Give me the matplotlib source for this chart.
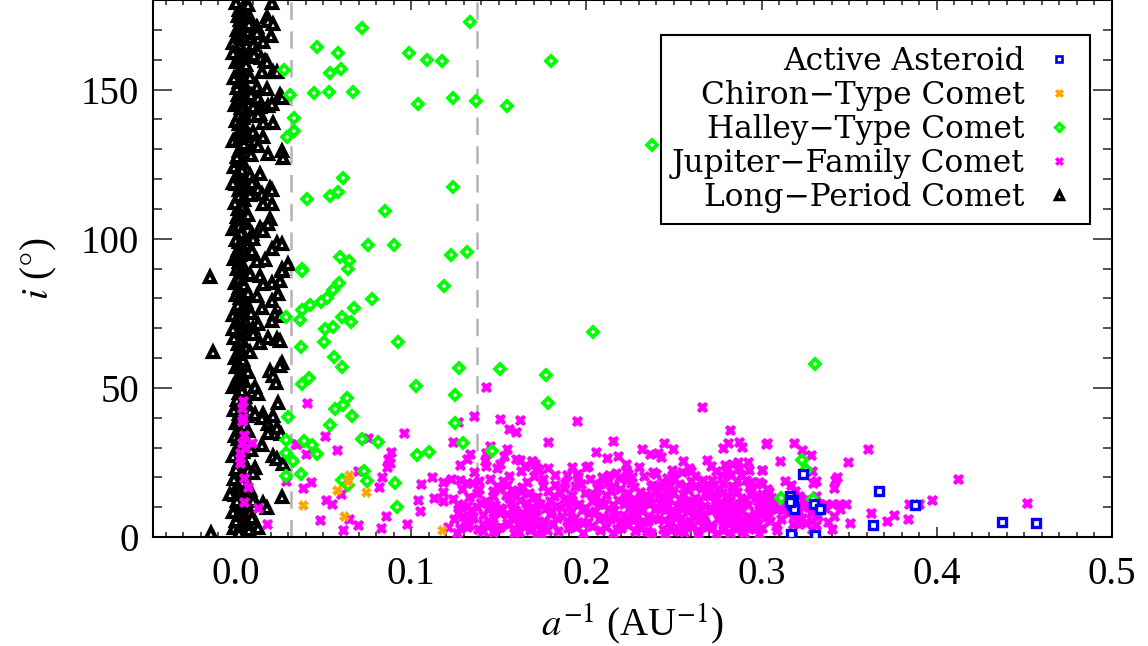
import matplotlib
matplotlib.use("Agg")
import matplotlib.pyplot as plt
from matplotlib.ticker import MultipleLocator, FormatStrFormatter
from matplotlib.lines import Line2D

# ---------------- data ----------------
# Active asteroids
aa_x = [0.3238, 0.367, 0.3164, 0.3176, 0.330, 0.3335, 0.3877, 0.3637, 0.4373, 0.4567,
        0.317, 0.3307, 0.318, 0.3185, 0.3165]
aa_y = [21.1, 15.4, 13.8, 10.7, 11.0, 9.4, 10.7, 4.0, 5.0, 4.7,
        1.0, 0.7, 12.5, 9.5, 11.8]

# Chiron-type comets
ctc_x = [0.0644, 0.0638, 0.0576, 0.0741, 0.0382, 0.0616, 0.1174]
ctc_y = [20.8, 18.8, 15.8, 15.1, 10.7, 7.0, 2.3]

# Halley-type comets
htc_x = [0.1334, 0.0718, 0.0462, 0.058, 0.0986, 0.109, 0.1174, 0.0274, 0.0536, 0.060,
         0.0308, 0.0445, 0.053, 0.0667, 0.1038, 0.1237, 0.1368, 0.1545, 0.033, 0.033,
         0.029, 0.061, 0.1237, 0.0405, 0.0536, 0.058, 0.085, 0.0753, 0.090, 0.0593,
         0.0644, 0.1226, 0.1317, 0.0376, 0.0638, 0.0376, 0.119, 0.0587, 0.0553, 0.0519,
         0.0485, 0.0775, 0.0422, 0.0376, 0.0673, 0.0285, 0.0365, 0.0604, 0.0656, 0.0507,
         0.0553, 0.037, 0.0502, 0.0924, 0.0559, 0.0604, 0.1271, 0.151, 0.0376, 0.0416,
         0.1026, 0.1249, 0.0633, 0.061, 0.0564, 0.0661, 0.0296, 0.0536, 0.1249, 0.0285,
         0.0388, 0.0433, 0.0718, 0.081, 0.1294, 0.0285, 0.0462, 0.0325, 0.1032, 0.110,
         0.146, 0.0285, 0.037, 0.073, 0.0604, 0.0638, 0.0747, 0.0906, 0.0918, 0.1796,
         0.2377, 0.204, 0.177, 0.178, 0.3307, 0.323, 0.3255, 0.311, 0.3295]
htc_y = [172.5, 170.5, 164.4, 162.1, 162.4, 160.0, 159.7, 156.7, 155.4, 157.0,
         148.3, 148.7, 149.3, 149.3, 145.3, 147.0, 146.3, 144.6, 140.6, 136.2,
         134.2, 120.5, 117.4, 113.4, 114.4, 115.8, 109.4, 98.0, 98.0, 94.0,
         92.6, 94.6, 95.6, 90.0, 90.0, 89.3, 84.2, 85.2, 82.9, 80.2,
         78.9, 79.9, 77.9, 76.2, 76.8, 73.8, 72.8, 73.8, 72.1, 69.8,
         70.5, 63.8, 65.4, 65.4, 60.4, 57.0, 56.7, 56.4, 51.3, 53.4,
         50.7, 47.7, 46.6, 44.3, 43.0, 40.6, 40.3, 37.6, 38.3, 32.6,
         32.2, 30.9, 32.9, 31.9, 31.5, 28.2, 27.9, 25.5, 27.5, 28.5,
         28.9, 20.5, 21.1, 22.1, 19.1, 17.4, 18.8, 18.1, 10.1, 159.7,
         131.5, 68.8, 54.4, 45.0, 58.0, 25.8, 22.5, 13.0, 12.6]

# Jupiter-family comets: near the LPC column
jfc_col_x = [0.004, 0.0034, 0.0034, 0.004, 0.0046, 0.0034, 0.009, 0.005, 0.0023, 0.0023,
             0.0023, 0.0348, 0.0046, 0.0068, 0.0285, 0.0046, 0.0125, 0.018]
jfc_col_y = [45.6, 43.3, 38.9, 40.0, 34.2, 31.5, 31.5, 29.9, 28.2, 26.5,
             24.8, 31.2, 19.8, 16.8, 18.8, 11.7, 9.7, 4.4]

# Jupiter-family comets: scattered / upper envelope
jfc_sc_x = [0.1425, 0.0405, 0.1357, 0.151, 0.162, 0.1266, 0.0958, 0.0507, 0.156, 0.160,
            0.0753, 0.0342, 0.1237, 0.1448, 0.0576, 0.0399, 0.0884, 0.155, 0.1334, 0.1425,
            0.0867, 0.0878, 0.086, 0.1596, 0.1648, 0.169, 0.1425, 0.149, 0.151, 0.0696,
            0.0832, 0.1117, 0.0428, 0.1055, 0.118, 0.1277, 0.1317, 0.135, 0.139, 0.0815,
            0.0382, 0.060, 0.129, 0.118, 0.147, 0.151, 0.158, 0.163, 0.0513, 0.1038,
            0.1129, 0.118, 0.0547, 0.1266, 0.1317, 0.1374, 0.1049, 0.1437, 0.1505, 0.158,
            0.166, 0.0855, 0.0644, 0.0479, 0.1243, 0.1294, 0.1346, 0.0696, 0.0827, 0.0975,
            0.061, 0.1277, 0.1317, 0.1408, 0.1488, 0.156, 0.162, 0.169, 0.1408, 0.1465,
            0.1545, 0.1716, 0.1716,
            0.266, 0.1944, 0.178, 0.2155, 0.2446, 0.2822, 0.281, 0.287, 0.289, 0.278,
            0.3027, 0.2058, 0.232, 0.2497, 0.2366, 0.241, 0.2429, 0.212, 0.2178, 0.162,
            0.1688, 0.1705, 0.1648, 0.178, 0.1916, 0.2007, 0.2229, 0.2229, 0.2554, 0.2588,
            0.269, 0.2714, 0.2794, 0.2834, 0.2868, 0.2873, 0.2925, 0.293, 0.3005, 0.1887,
            0.1944, 0.2087, 0.2132, 0.2189, 0.2263, 0.2491, 0.2497, 0.2548, 0.260, 0.2742,
            0.2776, 0.280, 0.2828, 0.288, 0.2913, 0.2987, 0.2668,
            0.3033, 0.3187, 0.3232, 0.3284, 0.3609, 0.3107, 0.3495, 0.3005, 0.329, 0.3136,
            0.317, 0.3295, 0.3312, 0.342, 0.3432, 0.3415, 0.4122, 0.3005, 0.3044, 0.3005,
            0.3005, 0.3005, 0.3005, 0.3073, 0.3073, 0.3141, 0.3176, 0.3216, 0.3256, 0.329,
            0.333, 0.337, 0.3403, 0.3443, 0.3483, 0.3216, 0.3312, 0.3843, 0.390, 0.3974,
            0.4515, 0.3626, 0.3415, 0.3757, 0.3837, 0.3717, 0.3506, 0.3216, 0.3256, 0.329,
            0.3312, 0.309, 0.3404, 0.2987, 0.329]
jfc_sc_y = [50.3, 45.0, 40.6, 39.6, 39.3, 38.6, 34.9, 33.9, 36.2, 35.2,
            33.2, 31.2, 31.9, 30.5, 29.2, 27.9, 28.5, 29.5, 27.9, 28.2,
            26.2, 24.8, 23.5, 26.2, 23.8, 25.5, 23.8, 23.2, 24.5, 22.1,
            20.1, 20.1, 18.5, 17.8, 18.5, 19.1, 18.1, 18.1, 18.8, 16.8,
            16.4, 14.4, 16.1, 15.1, 15.4, 16.1, 14.8, 15.4, 12.4, 12.4,
            13.1, 12.1, 11.1, 11.1, 10.4, 10.1, 8.7, 9.4, 9.7, 8.7,
            9.4, 7.0, 6.0, 5.7, 6.0, 7.0, 6.4, 4.0, 3.0, 4.4,
            2.3, 3.0, 3.4, 4.4, 3.0, 4.4, 5.4, 4.4, 2.0, 6.4,
            7.7, 1.0, 23.2,
            43.6, 38.9, 31.9, 32.2, 31.5, 35.9, 31.5, 31.9, 30.2, 29.9,
            31.2, 28.5, 29.5, 29.5, 27.9, 28.2, 26.8, 26.5, 27.2, 25.8,
            25.5, 24.5, 23.8, 23.2, 23.5, 23.8, 24.5, 22.1, 25.5, 23.2,
            25.8, 23.8, 24.2, 24.5, 25.2, 23.2, 25.2, 22.5, 22.5, 20.8,
            21.1, 20.1, 20.8, 19.8, 20.1, 22.5, 20.8, 21.8, 22.1, 22.1,
            20.8, 21.5, 20.8, 20.8, 19.1, 18.5, 19.1,
            31.5, 31.5, 29.2, 27.5, 29.5, 25.5, 25.2, 22.5, 22.1, 18.8,
            17.4, 18.1, 18.8, 19.1, 20.1, 16.4, 19.5, 17.8, 15.1, 14.4,
            11.1, 7.7, 3.0, 11.1, 9.7, 11.1, 11.1, 11.1, 11.1, 11.1,
            11.1, 11.1, 11.1, 11.1, 11.1, 13.8, 13.8, 11.1, 11.1, 12.4,
            11.4, 8.0, 7.0, 7.4, 6.0, 5.4, 4.7, 4.4, 4.7, 5.4,
            4.0, 2.3, 2.7, 1.0, 2.7]

# Jupiter-family comets: dense main cloud
jfc_core_x = [0.121, 0.124, 0.127, 0.123, 0.128, 0.126,
              0.131, 0.133, 0.136, 0.138, 0.134, 0.139, 0.132,
              0.141, 0.143, 0.145, 0.147, 0.142, 0.148, 0.146, 0.149,
              0.151, 0.152, 0.154, 0.156, 0.158, 0.153, 0.157, 0.159, 0.155,
              0.161, 0.162, 0.164, 0.166, 0.168, 0.163, 0.167, 0.169, 0.165, 0.170,
              0.171, 0.172, 0.174, 0.175, 0.177, 0.178, 0.173, 0.176, 0.179, 0.174,
              0.181, 0.183, 0.185, 0.186, 0.188, 0.182, 0.184, 0.187, 0.189, 0.180,
              0.191, 0.192, 0.194, 0.196, 0.197, 0.193, 0.198, 0.195, 0.199,
              0.201, 0.203, 0.205, 0.206, 0.208, 0.202, 0.204, 0.207, 0.209, 0.200,
              0.211, 0.213, 0.214, 0.216, 0.218, 0.212, 0.215, 0.217, 0.219, 0.210, 0.216,
              0.221, 0.222, 0.224, 0.225, 0.227, 0.228, 0.223, 0.226, 0.229, 0.224, 0.220, 0.228,
              0.231, 0.232, 0.234, 0.235, 0.236, 0.238, 0.233, 0.237, 0.239, 0.230, 0.236, 0.239,
              0.241, 0.242, 0.244, 0.245, 0.246, 0.248, 0.243, 0.247, 0.249, 0.240, 0.245, 0.248, 0.243,
              0.251, 0.252, 0.254, 0.255, 0.256, 0.258, 0.253, 0.257, 0.259, 0.250, 0.254, 0.258, 0.252,
              0.261, 0.262, 0.264, 0.265, 0.266, 0.268, 0.263, 0.267, 0.269, 0.260, 0.264, 0.268, 0.262,
              0.271, 0.272, 0.274, 0.275, 0.276, 0.278, 0.273, 0.277, 0.279, 0.270, 0.274, 0.278, 0.272, 0.276,
              0.281, 0.282, 0.284, 0.285, 0.286, 0.288, 0.283, 0.287, 0.289, 0.280, 0.284, 0.288, 0.282, 0.286,
              0.291, 0.292, 0.294, 0.295, 0.296, 0.298, 0.293, 0.297, 0.299, 0.290, 0.294, 0.298,
              0.302, 0.305, 0.306, 0.309, 0.303,
              0.311, 0.313, 0.315, 0.318, 0.319,
              0.321, 0.323, 0.326, 0.328,
              0.332, 0.336, 0.338, 0.345]
jfc_core_y = [3.5, 12.8, 8.2, 19.5, 24.0, 1.5,
              5.2, 13.5, 21.8, 2.8, 9.0, 16.2, 26.0,
              7.5, 12.0, 19.5, 1.8, 25.5, 10.8, 5.0, 17.0,
              3.2, 9.5, 14.2, 20.5, 6.5, 27.0, 11.8, 1.2, 17.5,
              4.5, 12.5, 8.0, 18.5, 2.5, 22.0, 14.8, 10.0, 5.8, 20.5,
              7.0, 13.5, 3.0, 17.0, 9.8, 15.5, 22.5, 5.5, 12.0, 1.0,
              4.2, 10.5, 15.0, 7.2, 18.2, 20.8, 2.0, 12.8, 5.5, 9.0,
              8.5, 14.0, 3.5, 11.2, 17.8, 6.2, 1.5, 20.0, 9.8,
              5.0, 12.0, 8.8, 16.5, 2.5, 19.5, 14.5, 6.0, 11.0, 23.5,
              3.2, 9.5, 15.5, 6.8, 12.5, 18.0, 1.2, 21.5, 4.8, 11.0, 17.0,
              7.5, 13.0, 4.0, 10.0, 16.8, 2.0, 19.0, 8.5, 12.0, 14.8, 5.5, 6.2,
              3.0, 8.8, 14.0, 5.5, 11.2, 17.5, 20.5, 1.5, 9.5, 12.8, 7.0, 15.5,
              6.0, 11.5, 2.8, 9.0, 15.2, 4.5, 18.5, 12.8, 7.8, 21.0, 1.0, 17.0, 13.8,
              3.5, 10.5, 6.5, 14.5, 1.8, 8.8, 17.8, 12.0, 5.2, 19.5, 11.2, 15.8, 7.8,
              6.8, 13.2, 2.5, 9.8, 16.5, 4.8, 11.0, 7.5, 14.0, 18.8, 1.0, 10.5, 20.5,
              4.0, 9.2, 12.8, 6.2, 15.8, 2.2, 17.5, 8.0, 11.5, 13.8, 1.0, 5.5, 19.2, 10.5,
              7.0, 12.0, 3.5, 9.5, 15.0, 5.8, 17.2, 11.0, 2.0, 14.0, 8.2, 13.0, 1.2, 6.5,
              5.0, 10.8, 14.2, 3.0, 8.0, 12.2, 16.8, 6.2, 10.0, 1.5, 18.5, 4.2,
              8.8, 5.5, 13.0, 9.5, 16.0,
              6.0, 12.5, 8.2, 4.5, 15.5,
              9.0, 6.5, 12.8, 8.0,
              7.2, 9.8, 5.0, 9.5]

# Jupiter-family comets: more of the dense cloud
jfc_more_x = [0.1285, 0.1355, 0.1375, 0.1445, 0.1465, 0.1505, 0.1525, 0.1545, 0.1575, 0.1595,
              0.1615, 0.1635, 0.1655, 0.1675, 0.1695, 0.1715, 0.1735, 0.1755, 0.1775, 0.1795,
              0.1815, 0.1835, 0.1855, 0.1875, 0.1895, 0.1915, 0.1935, 0.1955, 0.1975, 0.1995,
              0.2015, 0.2035, 0.2055, 0.2075, 0.2095, 0.2115, 0.2135, 0.2155, 0.2175, 0.2195,
              0.2215, 0.2235, 0.2255, 0.2275, 0.2295, 0.2305, 0.2325, 0.2345, 0.2365, 0.2385,
              0.2405, 0.2425, 0.2445, 0.2465, 0.2485, 0.2495, 0.2515, 0.2535, 0.2555, 0.2575,
              0.2595, 0.2605, 0.2625, 0.2645, 0.2665, 0.2685, 0.2705, 0.2715, 0.2735, 0.2755,
              0.2775, 0.2795, 0.2805, 0.2825, 0.2845, 0.2865, 0.2885, 0.2905, 0.2925, 0.2945,
              0.2965, 0.2985, 0.3015, 0.3035, 0.3065, 0.3085, 0.3125, 0.3155, 0.3185, 0.3235,
              0.2250, 0.2290, 0.2330, 0.2370, 0.2410, 0.2450, 0.2490, 0.2530, 0.2570, 0.2610,
              0.2650, 0.2690, 0.2730, 0.2770, 0.2810, 0.2850, 0.2890, 0.2930, 0.2970, 0.2990,
              0.2160, 0.2200, 0.2080, 0.1980, 0.1900, 0.1820, 0.1720, 0.1640, 0.1560, 0.1480,
              0.1400, 0.1330, 0.2620, 0.2700, 0.2780, 0.2860, 0.2460, 0.2380, 0.2300, 0.2240]
jfc_more_y = [10.2, 6.8, 14.8, 3.9, 13.6, 7.9, 18.8, 4.8, 15.9, 9.0,
              1.8, 16.9, 11.4, 6.9, 13.1, 4.1, 10.9, 19.3, 2.4, 7.7,
              13.9, 6.3, 10.1, 16.4, 3.1, 12.1, 17.1, 5.1, 9.1, 14.6,
              8.1, 3.6, 13.4, 17.9, 6.6, 14.1, 5.9, 10.6, 2.6, 16.1,
              11.1, 6.1, 18.1, 9.4, 3.9, 15.1, 10.9, 2.1, 13.3, 6.4,
              9.7, 16.3, 5.6, 10.6, 2.3, 14.9, 8.1, 12.9, 4.3, 16.9,
              9.9, 3.3, 7.9, 12.3, 5.3, 15.3, 8.9, 2.9, 11.7, 6.6,
              14.6, 9.6, 4.6, 10.3, 16.3, 3.1, 8.6, 12.6, 6.9, 15.6,
              2.6, 9.1, 12.1, 6.6, 10.1, 3.6, 9.1, 13.1, 7.1, 10.1,
              12.3, 7.3, 5.0, 17.0, 13.0, 11.9, 6.9, 2.0, 9.6, 11.8,
              6.0, 3.4, 14.9, 11.0, 13.3, 6.3, 10.6, 3.9, 13.5, 7.4,
              8.9, 3.0, 11.2, 4.6, 10.2, 17.3, 9.1, 3.6, 13.0, 8.4,
              11.4, 3.9, 17.0, 17.4, 18.0, 18.8, 19.8, 21.8, 23.6, 21.0]

# Long-period comets: dense column near a^-1 = 0
lpc_core_y = [0.5, 1.8, 3.0, 4.1, 5.3, 6.2, 7.5, 8.4, 9.6, 10.8, 11.7, 12.9, 14.0, 15.2,
              16.1, 17.4, 18.5, 19.3, 20.6, 21.8, 22.7, 23.9, 25.0, 26.2, 27.1, 28.4, 29.5,
              30.3, 31.6, 32.8, 33.7, 34.9, 36.0, 37.2, 38.1, 39.4, 40.5, 41.3, 42.6, 43.8,
              44.7, 45.9, 47.0, 48.2, 49.1, 50.4, 51.5, 52.3, 53.6, 54.8, 55.7, 56.9, 58.0,
              59.2, 60.1, 61.4, 62.5, 63.3, 64.6, 65.8, 66.7, 67.9, 69.0, 70.2, 71.1, 72.4,
              73.5, 74.3, 75.6, 76.8, 77.7, 78.9, 80.0, 81.2, 82.1, 83.4, 84.5, 85.3, 86.6,
              87.8, 88.7, 89.9, 91.0, 92.2, 93.1, 94.4, 95.5, 96.3, 97.6, 98.8, 99.7, 100.9,
              102.0, 103.2, 104.1, 105.4, 106.5, 107.3, 108.6, 109.8, 110.7, 111.9, 113.0,
              114.2, 115.1, 116.4, 117.5, 118.3, 119.6, 120.8, 121.7, 122.9, 124.0, 125.2,
              126.1, 127.4, 128.5, 129.3, 130.6, 131.8, 132.7, 133.9, 135.0, 136.2, 137.1,
              138.4, 139.5, 140.3, 141.6, 142.8, 143.7, 144.9, 146.0, 147.2, 148.1, 149.4,
              150.5, 151.3, 152.6, 153.8, 154.7, 155.9, 157.0, 158.2, 159.1, 160.4, 161.5,
              162.3, 163.6, 164.8, 165.7, 166.9, 168.0, 169.2, 170.1, 171.4, 172.5, 173.3,
              174.6, 175.8, 176.7, 177.9, 179.0,
              2.4, 8.9, 15.7, 22.3, 29.0, 35.5, 42.1, 48.7, 55.2, 61.9, 68.4, 75.0, 81.7,
              88.2, 94.9, 101.4, 108.0, 114.7, 121.2, 127.9, 134.4, 141.0, 147.7, 154.2,
              160.9, 167.4, 174.0]
lpc_core_x = [0.001, 0.004, -0.001, 0.003, 0.0, 0.005, 0.002, -0.0015, 0.0035, 0.0005,
              0.0045, 0.0015, -0.0005, 0.0025, 0.006, 0.001, 0.0035, -0.001, 0.0045, 0.002,
              0.0, 0.0055, 0.0015, 0.003, -0.0015, 0.004, 0.0005, 0.0025, 0.005, 0.001,
              -0.0005, 0.0035, 0.002, 0.0045, 0.0, 0.003, 0.0065, 0.0015, -0.001, 0.004,
              0.0025, 0.0005, 0.005, 0.0015, 0.0035, -0.0015, 0.002, 0.0045, 0.001, 0.003,
              0.0055, 0.0, 0.0025, 0.004, -0.0005, 0.0015, 0.0035, 0.006, 0.001, 0.0025,
              -0.001, 0.0045, 0.002, 0.0005, 0.0035, 0.005, 0.0015, -0.0015, 0.003, 0.004,
              0.001, 0.0055, 0.0025, 0.0, 0.0035, 0.0015, 0.0045, -0.0005, 0.002, 0.006,
              0.003, 0.0005, 0.004, 0.0015, -0.001, 0.0025, 0.005, 0.001, 0.0035, 0.002,
              0.0, 0.0045, 0.003, -0.0015, 0.0015, 0.0055, 0.0025, 0.0005, 0.004, 0.001,
              0.0035, -0.0005, 0.0045, 0.002, 0.006, 0.0015, 0.003, 0.0, 0.0025, 0.005,
              0.001, 0.0035, -0.001, 0.004, 0.002, 0.0005, 0.0055, 0.0015, 0.003, 0.0045,
              -0.0015, 0.0025, 0.001, 0.0035, 0.005, 0.002, 0.0, 0.004, 0.0015, 0.006,
              0.003, -0.0005, 0.0025, 0.0045, 0.001, 0.0035, 0.0005, 0.005, 0.002, -0.001,
              0.004, 0.0015, 0.003, 0.0055, 0.0, 0.0025, 0.0045, 0.001, 0.0035, 0.002,
              -0.0015, 0.005, 0.0015, 0.003, 0.0005, 0.004, 0.0065, 0.0025, 0.001, 0.0035,
              0.002, 0.0045, 0.0,
              0.0075, 0.007, 0.008, 0.0068, 0.0085, 0.0072, 0.0078, 0.009, 0.007, 0.0082,
              0.0075, 0.0088, 0.007, 0.008, 0.0076, 0.0092, 0.0071, 0.0083, 0.0079, 0.0086,
              0.0073, 0.009, 0.0077, 0.0081, 0.0074, 0.0087, 0.008]

# Long-period comets: scattered ones
lpc_out_x = [0.0068, 0.0205, 0.0177, 0.0182, 0.0211, 0.0074, 0.012, 0.0131, 0.012, 0.020,
             0.0154, 0.0097, -0.0017, 0.008, 0.0103, 0.0143, 0.0165, 0.0177, 0.0148, 0.0211,
             0.0234, 0.012, 0.0177, 0.0251, 0.0262, 0.0086, 0.0125, 0.0097, 0.0137, 0.0182,
             0.0205, 0.0137, 0.0125, 0.0154, 0.0211, 0.0097, 0.0154, 0.0108, 0.0125, 0.0262,
             0.0268, 0.0182, 0.0137, -0.0017, 0.0091, 0.0125, 0.0194, 0.0205, 0.0148, 0.0154,
             0.0205, 0.0194, 0.0182, 0.0137, 0.0154, 0.0097, 0.0234, 0.0262, 0.0205, 0.012,
             0.0165, 0.0262, 0.0296, 0.0091,
             -0.0148, 0.0137, 0.0154, 0.0205, 0.0251, 0.0262, 0.012, 0.0239, 0.0205, 0.0148,
             0.0222, 0.0251, 0.0205, 0.0125, 0.0097, -0.0017, 0.0097, 0.0137, 0.0182, 0.0234,
             0.0251, -0.0131, 0.0262, 0.0251, 0.0194, 0.0211, 0.0228, 0.0108, 0.0125, 0.0239,
             0.0154, 0.0108, 0.0148, 0.0211, 0.0182, 0.0234, 0.0257, 0.0182, 0.0148, 0.0211,
             0.0234, 0.0268, 0.0108, 0.0097, -0.0034, 0.0006, 0.0091, 0.0097, 0.0262, 0.0154,
             0.0177, 0.0080, -0.0143, 0.0017, 0.0108, 0.0091, 0.0125]
lpc_out_y = [178.2, 178.9, 174.2, 172.8, 171.8, 172.1, 171.1, 169.1, 169.1, 168.1,
             165.8, 164.8, 162.4, 161.7, 161.4, 160.4, 159.7, 159.1, 155.7, 155.7,
             155.7, 151.0, 150.3, 148.0, 147.3, 148.3, 147.0, 144.0, 144.3, 144.6,
             145.3, 141.9, 141.3, 138.9, 138.9, 135.6, 134.2, 132.9, 131.2, 129.5,
             127.2, 128.5, 121.8, 118.8, 118.5, 116.8, 117.1, 116.4, 115.1, 111.7,
             111.7, 106.7, 105.0, 103.7, 102.7, 100.0, 98.7, 98.3, 96.6, 92.6,
             93.0, 90.0, 91.6, 96.0,
             87.2, 87.6, 84.9, 85.2, 85.9, 89.3, 80.9, 81.5, 79.2, 76.8,
             74.8, 74.2, 72.5, 71.5, 70.0, 69.8, 68.1, 65.1, 66.8, 66.4,
             65.8, 62.1, 58.4, 57.4, 55.7, 54.0, 51.7, 50.3, 48.0, 45.0,
             41.3, 41.3, 39.9, 40.6, 37.9, 36.6, 34.6, 34.9, 31.0, 27.2,
             26.2, 24.5, 23.0, 21.5, 14.4, 12.1, 13.8, 12.1, 13.4, 11.5,
             9.8, 8.5, 1.3, 1.3, 4.5, 6.5, 3.0]

# dividing lines
div_x = [0.0313, 0.1375]

legend_labels = ["Active Asteroid", "Chiron\u2212Type Comet", "Halley\u2212Type Comet",
                 "Jupiter\u2212Family Comet", "Long\u2212Period Comet"]

# ---------------- plot ----------------
plt.rcParams['font.family'] = ['Liberation Serif', 'DejaVu Serif']
plt.rcParams['mathtext.fontset'] = 'stix'

fig = plt.figure(figsize=(11.48, 6.46), dpi=100)
ax = fig.add_axes([153/1148, 109/646, 959/1148, 537/646])

for xv in div_x:
    ax.axvline(xv, color='#b4b4b4', lw=1.8, ls=(0, (7, 4.5)), zorder=1)

lpc_x = lpc_core_x + lpc_out_x
lpc_y = lpc_core_y + lpc_out_y
ax.plot(lpc_x, lpc_y, ls='none', marker='^', ms=6.8, mfc='white', mec='black', mew=3.0, zorder=2)

jfc_x = jfc_col_x + jfc_sc_x + jfc_core_x + jfc_more_x
jfc_y = jfc_col_y + jfc_sc_y + jfc_core_y + jfc_more_y
ax.plot(jfc_x, jfc_y, ls='none', marker='X', ms=7.5, mfc='#ff00ff', mec='#ff00ff', mew=0.6, zorder=3)

ax.plot(htc_x, htc_y, ls='none', marker='D', ms=4.8, mfc='white', mec='#00ff00', mew=2.7, zorder=4)
ax.plot(ctc_x, ctc_y, ls='none', marker='X', ms=7, mfc='#ffa500', mec='#ffa500', mew=0.5, zorder=5)
ax.plot(aa_x, aa_y, ls='none', marker='s', ms=6, mfc='white', mec='#0000ff', mew=2.4, zorder=6)

ax.set_xlim(-0.0473, 0.5)
ax.set_ylim(0, 180)

ax.xaxis.set_major_locator(MultipleLocator(0.1))
ax.xaxis.set_minor_locator(MultipleLocator(0.01))
ax.xaxis.set_major_formatter(FormatStrFormatter('%.1f'))
ax.yaxis.set_major_locator(MultipleLocator(50))
ax.yaxis.set_minor_locator(MultipleLocator(10))

ax.tick_params(axis='both', which='both', direction='in', top=True, right=True,
               labelsize=28, width=1.2, color='#333333')
ax.tick_params(axis='x', which='major', length=7.5, pad=14)
ax.tick_params(axis='x', which='minor', length=3.8)
ax.tick_params(axis='y', which='major', length=14, pad=10)
ax.tick_params(axis='y', which='minor', length=6.8)

for s in ax.spines.values():
    s.set_linewidth(1.5)
    s.set_color('black')

ax.set_xlabel(r"$a^{-1}$ (AU$^{-1}$)", fontsize=28, labelpad=6)
ax.set_ylabel(r"$i$ ($\degree$)", fontsize=28, labelpad=16)

handles = [
    Line2D([], [], ls='none', marker='s', ms=5, mfc='white', mec='#0000ff', mew=1.9),
    Line2D([], [], ls='none', marker='X', ms=6, mfc='#ffa500', mec='#ffa500', mew=0.5),
    Line2D([], [], ls='none', marker='D', ms=4.2, mfc='white', mec='#00ff00', mew=2.3),
    Line2D([], [], ls='none', marker='X', ms=6, mfc='#ff00ff', mec='#ff00ff', mew=0.5),
    Line2D([], [], ls='none', marker='^', ms=5.8, mfc='white', mec='black', mew=2.5),
]
leg = ax.legend(handles, legend_labels, loc='upper right', bbox_to_anchor=(0.977, 0.935),
                markerfirst=False, frameon=True, fancybox=False, framealpha=1,
                edgecolor='black', prop={'family': 'DejaVu Serif', 'size': 22.5},
                handlelength=1.3, handletextpad=0.45, labelspacing=0.1,
                borderpad=0.35, borderaxespad=0)
leg.get_frame().set_linewidth(1.5)
leg.set_zorder(10)

fig.savefig("out.png", dpi=100)
